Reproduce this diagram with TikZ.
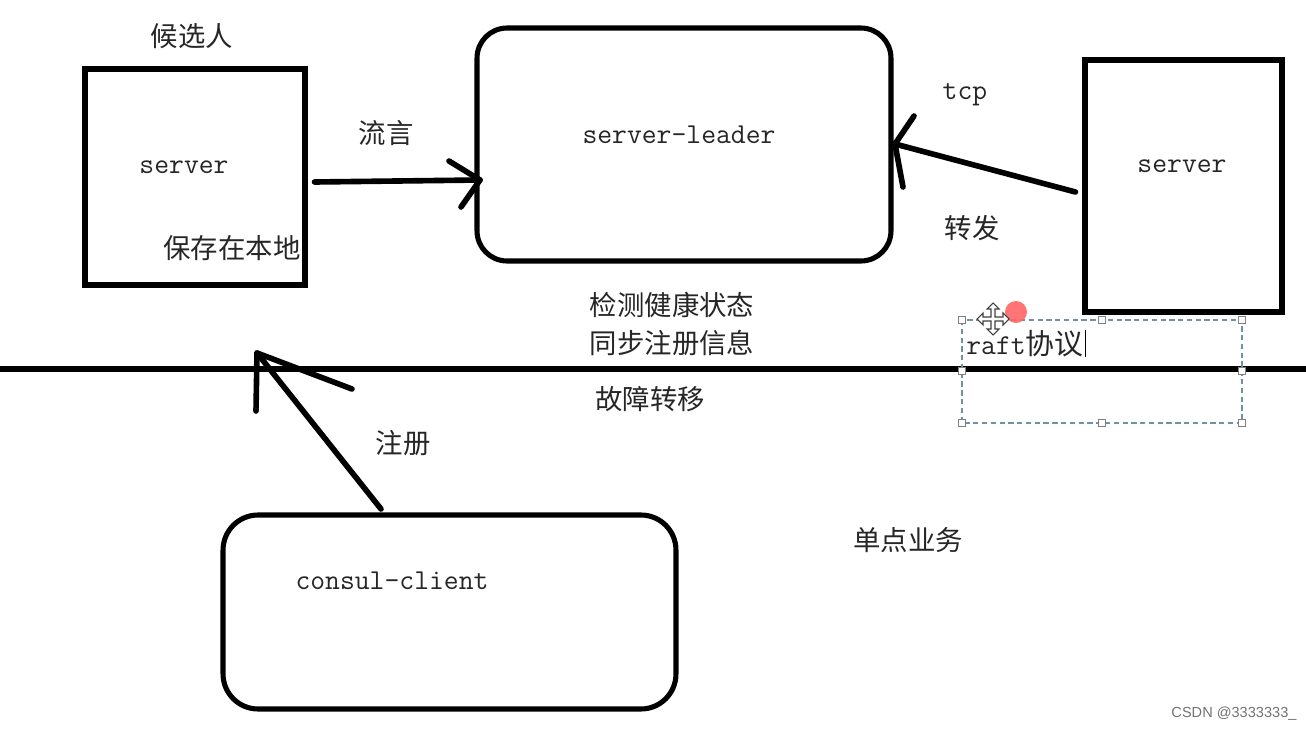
\documentclass[tikz,border=0pt]{standalone}
\usepackage{fontspec}
\newfontfamily\cjk{Noto Sans CJK SC}
\newfontfamily\wmfont{Liberation Sans}
\definecolor{selcol}{RGB}{110,145,165}
\begin{document}
\begin{tikzpicture}[x=0.02cm,y=-0.02cm,
  box/.style={draw=black,line width=2.9pt,inner sep=0pt},
  arr/.style={draw=black,line width=3.2pt,line cap=round,line join=round},
  zh/.style={font=\cjk\fontsize{15.6pt}{18pt}\selectfont,inner sep=0pt,text=black!85},
  en/.style={font=\ttfamily\fontsize{16.4pt}{18pt}\selectfont,inner sep=0pt,text=black!85},
  sel/.style={draw=selcol,line width=0.6pt,dash pattern=on 3pt off 2pt},
  handle/.style={draw=gray,fill=white,line width=0.5pt,minimum size=4pt,inner sep=0pt}]
\useasboundingbox (0,0) rectangle (1306,730);
\fill[white] (0,0) rectangle (1306,730);
% boxes
\node[box,minimum width=4.4cm,minimum height=4.32cm] (lb) at (195,177) {};
\node[box,rounded corners=0.6cm,minimum width=8.28cm,minimum height=4.66cm] (cb) at (684,144.5) {};
\node[box,minimum width=3.94cm,minimum height=5.04cm] (rb) at (1183.5,186) {};
\node[box,rounded corners=0.7cm,minimum width=9.06cm,minimum height=3.88cm] (kb) at (449.5,612) {};
% texts
\node[zh] (t1) at (192,36) {候选人};
\node[en] (t2) at (184,167) {server};
\node[zh] (t3) at (232,248) {保存在本地};
\node[zh] (t4) at (386,133) {流言};
\node[en] (t5) at (679,135) {server-leader};
\node[en] (t6) at (1182,166) {server};
\node[en] (t7) at (965,95) {tcp};
\node[zh] (t8) at (972,228) {转发};
\node[zh] (t9) at (672,305) {检测健康状态};
\node[zh] (t10) at (672,343) {同步注册信息};
\node[zh] (t11) at (650,399) {故障转移};
\node[zh] (t12) at (403,443) {注册};
\node[en] (t13) at (392,581) {consul-client};
\node[zh] (t14) at (908,540) {单点业务};
\node[font=\wmfont\fontsize{8.3pt}{10pt}\selectfont,text=black!55,inner sep=0pt] (wm) at (1234,714) {CSDN @3333333\_};
% horizontal line
\coordinate (hl) at (0,369);
\coordinate (hr) at (1306,369);
\draw[line width=2.9pt] (hl) -- (hr);
% arrow left box -> leader
\coordinate (tipA) at (480,180);
\draw[arr] ([xshift=0.14cm,yshift=-0.1cm]lb.east) -- (tipA);
\draw[arr] (449,161) -- (tipA) -- (461,207);
% arrow right server -> leader
\coordinate (tipB) at (895,144);
\draw[arr] ([xshift=-0.14cm,yshift=-0.12cm]rb.west) -- (tipB);
\draw[arr] (914,116) -- (tipB) -- (903,187);
% arrow client -> line
\coordinate (tipC) at (257,353);
\coordinate (kbs) at (381,509);
\draw[arr] (kbs) -- (tipC);
\draw[arr] (352,389) -- (tipC) -- (256,411);
% selection box
\draw[sel] (962,320) rectangle (1242,423);
\foreach \p in {(962,320),(1102,320),(1242,320),(962,371),(1242,371),(962,423),(1102,423),(1242,423)}
  \node[handle] at \p {};
\node[en,anchor=west] (raft) at (966,344) {raft{\cjk 协议}};
\draw[line width=0.6pt] ([xshift=0.04cm]raft.east |- 0,330) -- ([xshift=0.04cm]raft.east |- 0,357);
% red dot and move cursor
\fill[red!60!white,opacity=0.9] (1016,312) circle (0.22cm);
\draw[fill=white,line width=0.6pt,draw=black!75] (993,319) ++(0,-16) -- ++(6,6) -- ++(-4,0) -- ++(0,8) -- ++(8,0) -- ++(0,-4) -- ++(6,6) -- ++(-6,6) -- ++(0,-4) -- ++(-8,0) -- ++(0,8) -- ++(4,0) -- ++(-6,6) -- ++(-6,-6) -- ++(4,0) -- ++(0,-8) -- ++(-8,0) -- ++(0,4) -- ++(-6,-6) -- ++(6,-6) -- ++(0,4) -- ++(8,0) -- ++(0,-8) -- ++(-4,0) -- cycle;
\end{tikzpicture}
\end{document}
